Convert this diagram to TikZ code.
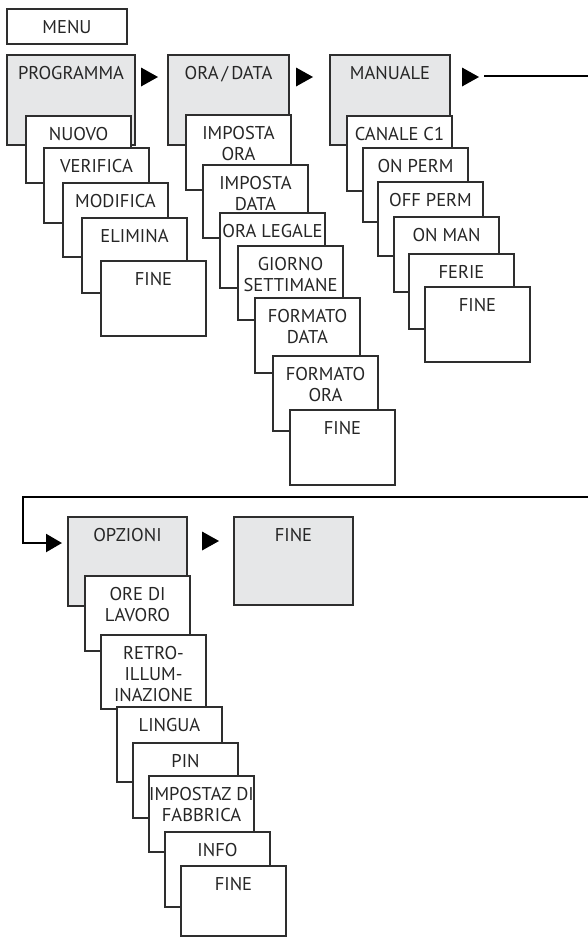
\documentclass[tikz,border=0pt]{standalone}
\usepackage{fontspec}
\setmainfont{PT Sans}
\usetikzlibrary{arrows.meta}
\definecolor{menugray}{HTML}{E6E7E8}
\definecolor{edge}{HTML}{2E2E2E}
\tikzset{
  boxbase/.style={draw=edge, line width=1.3pt, rectangle, inner sep=0pt, outer sep=0pt, anchor=north west},
  whitebox/.style={boxbase, fill=white},
  graybox/.style={boxbase, fill=menugray},
  lbl/.style={anchor=north, inner sep=0pt, align=center, font=\fontsize{18.5}{21}\selectfont, text=black!85},
  tri/.style={fill=black},
  conn/.style={line width=2.2pt, line join=miter, -{Triangle[length=16pt, width=18pt]}}
}
\newcommand\menubox[7]{%
  \node[#1, minimum width=#5pt, minimum height=#6pt] (#2) at (#3,#4) {};
  \node[lbl] at ([yshift=-11.5pt]#2.north) {#7};
}
\newcommand\navtri[2]{% left x, center y
  \fill[tri] (#1,#2-9.5) -- (#1+17,#2) -- (#1,#2+9.5) -- cycle;
}
\begin{document}
\begin{tikzpicture}[x=1pt, y=-1pt]
\useasboundingbox (0,0) rectangle (588,937);
% MENU
\menubox{whitebox}{menu}{7}{9}{120}{35}{MENU}
% Column 1
\menubox{graybox}{prog}{7}{55}{128}{90}{PROGRAMMA}
\menubox{whitebox}{nuovo}{26}{116}{105}{67}{NUOVO}
\menubox{whitebox}{verifica}{44}{148}{105}{75}{VERIFICA}
\menubox{whitebox}{modifica}{63}{183}{105}{74}{MODIFICA}
\menubox{whitebox}{elimina}{82}{218}{105}{75}{ELIMINA}
\menubox{whitebox}{fineA}{101}{261}{105}{75}{FINE}
% Column 2
\menubox{graybox}{oradata}{168}{55}{121}{90}{ORA\,/\,DATA}
\menubox{whitebox}{impora}{186}{115}{105}{75}{IMPOSTA\\ORA}
\menubox{whitebox}{impdata}{203}{165}{105}{73}{IMPOSTA\\DATA}
\menubox{whitebox}{oraleg}{220}{213}{105}{75}{ORA LEGALE}
\menubox{whitebox}{giorno}{238}{246}{105}{74}{GIORNO\\SETTIMANE}
\menubox{whitebox}{fmtdata}{255}{298}{105}{75}{FORMATO\\DATA}
\menubox{whitebox}{fmtora}{273}{356}{105}{75}{FORMATO\\ORA}
\menubox{whitebox}{fineB}{290}{410}{105}{75}{FINE}
% Column 3
\menubox{graybox}{manuale}{330}{55}{120}{90}{MANUALE}
\menubox{whitebox}{canale}{347}{116}{105}{75}{CANALE C1}
\menubox{whitebox}{onperm}{363}{148}{105}{74}{ON PERM}
\menubox{whitebox}{offperm}{378}{182}{105}{74}{OFF PERM}
\menubox{whitebox}{onman}{394}{217}{105}{75}{ON MAN}
\menubox{whitebox}{ferie}{409}{254}{105}{75}{FERIE}
\menubox{whitebox}{fineC}{425}{287}{105}{75}{FINE}
% Lower row
\menubox{graybox}{opzioni}{68}{517}{119}{89}{OPZIONI}
\menubox{graybox}{fineMain}{234}{517}{119}{88}{FINE}
\menubox{whitebox}{orelav}{85}{576}{105}{75}{ORE DI\\LAVORO}
\menubox{whitebox}{retro}{101}{635}{105}{74}{RETRO-\\ILLUM-\\INAZIONE}
\menubox{whitebox}{lingua}{117}{707}{105}{75}{LINGUA}
\menubox{whitebox}{pin}{133}{743}{105}{75}{PIN}
\menubox{whitebox}{impfab}{149}{776}{105}{76}{IMPOSTAZ DI\\FABBRICA}
\menubox{whitebox}{info}{165}{832}{105}{75}{INFO}
\menubox{whitebox}{fineD}{181}{866}{105}{70}{FINE}
% navigation triangles
\navtri{141}{77}
\navtri{296}{77}
\navtri{462}{77}
\navtri{202}{541}
% connector from MANUALE row to OPZIONI
\coordinate (cstart) at (484,76);
\coordinate (cend) at (62,543);
\draw[conn] (cstart) -- (590,76) -- (590,497) -- (23,497) |- (cend);
\end{tikzpicture}
\end{document}
